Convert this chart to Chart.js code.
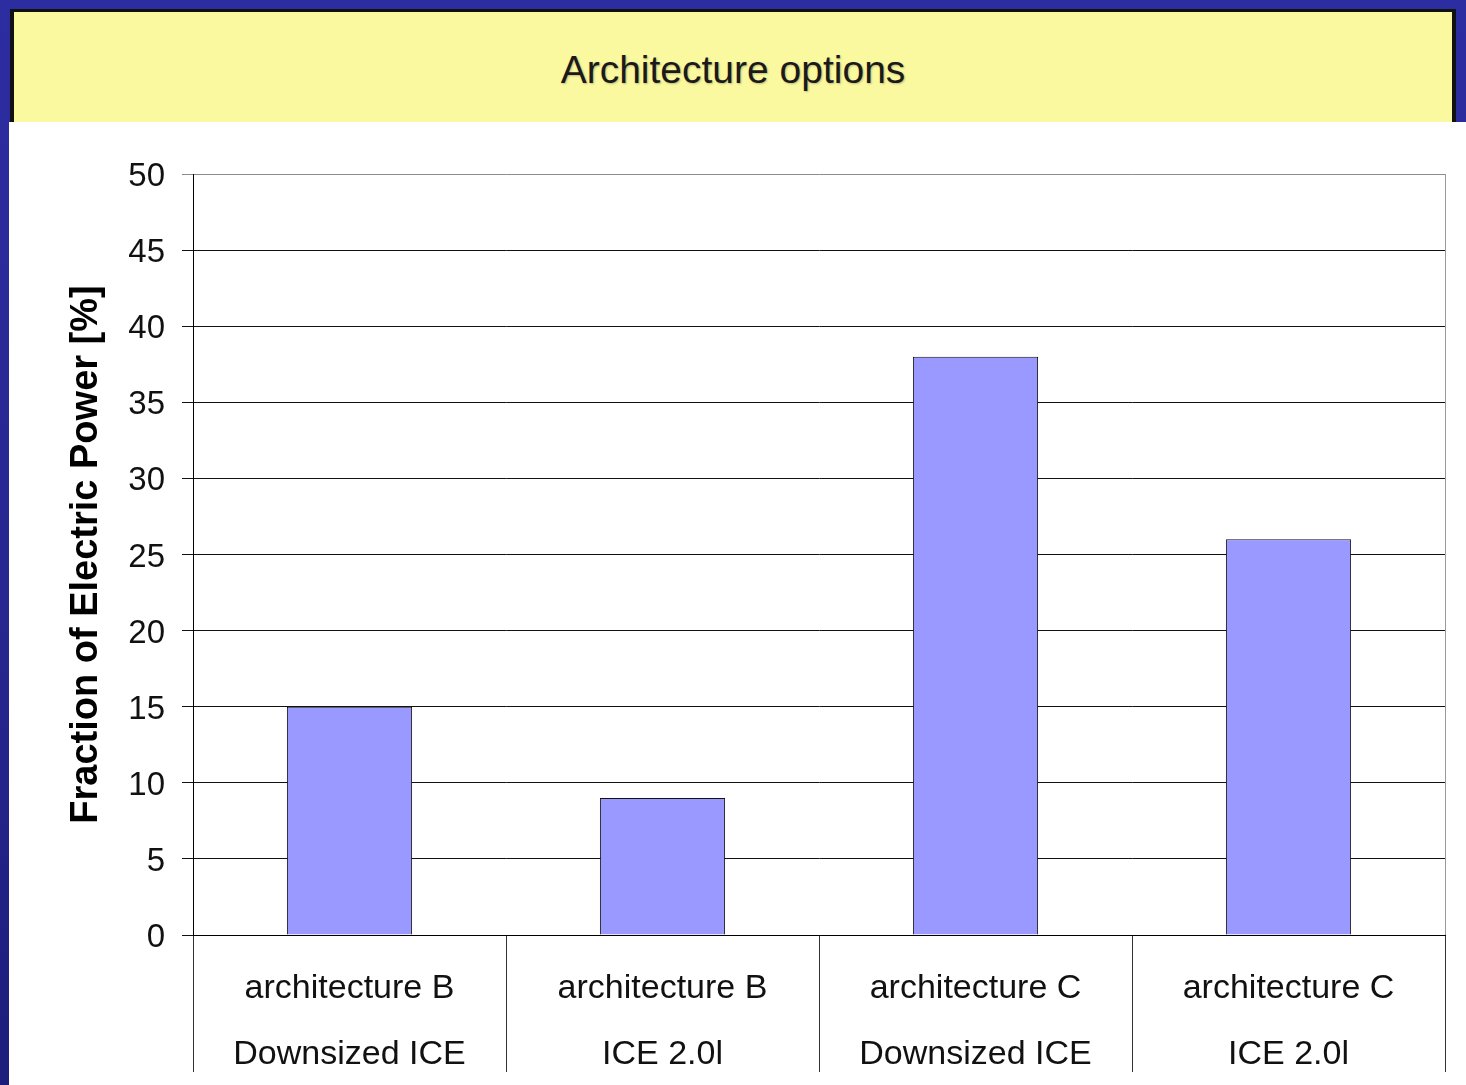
<!DOCTYPE html>
<html>
<head>
<meta charset="utf-8">
<script src="https://cdn.jsdelivr.net/npm/chart.js@4.4.1/dist/chart.umd.min.js"></script>
<style>
  html, body { margin: 0; padding: 0; }
  body {
    width: 1466px; height: 1085px; position: relative; overflow: hidden;
    background: linear-gradient(to bottom, #2d2da2 0%, #26268f 60%, #1d1d7c 100%);
    font-family: "Liberation Sans", Arial, sans-serif;
  }
  #titleBox {
    position: absolute; left: 10px; top: 9px; width: 1446px; height: 113px;
    background: #fbf99f;
    border-left: 4px solid #111; border-top: 3px solid #111; border-right: 4px solid #111;
    box-sizing: border-box;
    display: flex; align-items: center; justify-content: center;
  }
  #titleBox span {
    font-size: 39px; color: #1a1a1a; margin-top: 6px;
    text-shadow: 1px 1px 2px rgba(0,0,0,0.25);
  }
  #wrap {
    position: absolute; left: 9px; top: 122px; width: 1457px; height: 963px; background: #fff;
  }
</style>
</head>
<body>
<div id="titleBox"><span>Architecture options</span></div>
<div id="wrap"><canvas id="chart" width="1457" height="963"></canvas></div>
<script>
const categories = [
  ["architecture B", "Downsized ICE"],
  ["architecture B", "ICE 2.0l"],
  ["architecture C", "Downsized ICE"],
  ["architecture C", "ICE 2.0l"]
];
const electricFraction = [15, 9, 38, 26];
const yTicks = [0, 5, 10, 15, 20, 25, 30, 35, 40, 45, 50];

// thin grey frame on the right side of the plot
const rightEdge = {
  id: "rightEdge",
  afterDraw(chart) {
    const { ctx, chartArea } = chart;
    ctx.save();
    ctx.strokeStyle = "#9a9a9a";
    ctx.lineWidth = 1;
    ctx.beginPath();
    ctx.moveTo(chartArea.right + 0.5, chartArea.top);
    ctx.lineTo(chartArea.right + 0.5, chartArea.bottom);
    ctx.stroke();
    ctx.restore();
  }
};

new Chart(document.getElementById("chart").getContext("2d"), {
  type: "bar",
  data: {
    labels: categories,
    datasets: [{
      data: electricFraction,
      backgroundColor: "#9999ff",
      borderColor: "#111",
      borderWidth: 1,
      barPercentage: 0.4,
      categoryPercentage: 1
    }]
  },
  options: {
    responsive: false,
    animation: false,
    layout: { padding: { top: 52, right: 21, bottom: 13, left: 0 } },
    plugins: { legend: { display: false }, tooltip: { enabled: false } },
    scales: {
      x: {
        offset: true,
        grid: {
          offset: true,
          drawOnChartArea: false,
          drawTicks: true,
          tickLength: 137,
          color: "#333"
        },
        border: { color: "#000" },
        ticks: {
          color: "#111",
          padding: -116,
          maxRotation: 0,
          font: { family: "Liberation Sans", size: 34, lineHeight: 1.94 }
        },
        afterFit(scale) { scale.height = 137; }
      },
      y: {
        min: 0,
        max: 50,
        afterBuildTicks(scale) { scale.ticks = yTicks.map(v => ({ value: v })); },
        grid: {
          color: (c) => (c.tick && c.tick.value === 50 ? "#8c8c8c" : "#111"),
          tickLength: 11
        },
        border: { color: "#000" },
        ticks: {
          color: "#111",
          padding: 17,
          labelOffset: 3,
          font: { family: "Liberation Sans", size: 33 }
        },
        title: {
          display: true,
          text: "Fraction of Electric Power [%]",
          color: "#000",
          padding: { top: 55, bottom: 0 },
          font: { family: "Liberation Sans", size: 38, weight: "bold" }
        },
        afterFit(scale) { scale.width = 184; }
      }
    }
  },
  plugins: [rightEdge]
});
</script>
</body>
</html>
